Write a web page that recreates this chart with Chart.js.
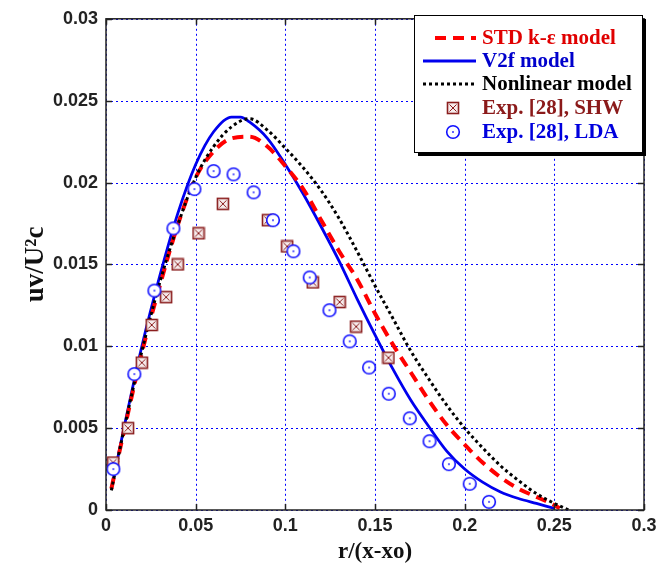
<!DOCTYPE html>
<html lang="en">
<head>
    <meta charset="UTF-8">
    <title>uv/U2c profiles</title>
    <script src="https://cdn.jsdelivr.net/npm/chart.js"></script>
    <style>
        html, body { margin: 0; padding: 0; background: #fff; }
        #wrap { width: 665px; height: 568px; }
    </style>
</head>
<body>
    <div id="wrap"><canvas id="uvChart" width="665" height="568"></canvas></div>
    <script>
        // Model curves, r/(x-xo) vs uv/U^2c
        const stdX = [0.003, 0.01, 0.02, 0.03, 0.04, 0.05, 0.06, 0.07, 0.08, 0.09, 0.1, 0.11, 0.12, 0.13, 0.14, 0.15, 0.16, 0.17, 0.18, 0.19, 0.2, 0.21, 0.22, 0.23, 0.24, 0.25, 0.253];
        const stdY = [0.0013, 0.0048, 0.0096, 0.0137, 0.0174, 0.0203, 0.0219, 0.0227, 0.0228, 0.0222, 0.0210, 0.0196, 0.0177, 0.0158, 0.0141, 0.0120, 0.0101, 0.0084, 0.0067, 0.0052, 0.0040, 0.0029, 0.0020, 0.0013, 0.0008, 0.0003, 0.0001];

        const v2fX = [0.003, 0.01, 0.02, 0.03, 0.04, 0.05, 0.06, 0.07, 0.075, 0.08, 0.09, 0.1, 0.11, 0.12, 0.13, 0.14, 0.15, 0.16, 0.17, 0.18, 0.19, 0.2, 0.21, 0.22, 0.23, 0.24, 0.25];
        const v2fY = [0.0013, 0.0050, 0.0100, 0.0143, 0.0181, 0.0211, 0.0231, 0.0240, 0.0240, 0.0237, 0.0227, 0.0211, 0.0193, 0.0173, 0.0152, 0.0129, 0.0107, 0.0086, 0.0067, 0.0051, 0.0036, 0.0025, 0.0017, 0.0011, 0.0007, 0.0004, 0.0001];

        const nlX = [0.003, 0.01, 0.02, 0.03, 0.04, 0.05, 0.06, 0.07, 0.08, 0.09, 0.1, 0.11, 0.12, 0.13, 0.14, 0.15, 0.16, 0.17, 0.18, 0.19, 0.2, 0.21, 0.22, 0.23, 0.24, 0.25, 0.258];
        const nlY = [0.0012, 0.0049, 0.0097, 0.0139, 0.0174, 0.0203, 0.0222, 0.0234, 0.0239, 0.0232, 0.0221, 0.0209, 0.0195, 0.0178, 0.0158, 0.0137, 0.0117, 0.0097, 0.0080, 0.0064, 0.0050, 0.0038, 0.0027, 0.0018, 0.0010, 0.0004, 0.0000];

        // Experiments [28]
        const shwX = [0.004, 0.0123, 0.020, 0.0255, 0.0335, 0.040, 0.0516, 0.0652, 0.0903, 0.101, 0.1153, 0.1303, 0.1395, 0.1575];
        const shwY = [0.0029, 0.0050, 0.0090, 0.0113, 0.0130, 0.0150, 0.0169, 0.0187, 0.0177, 0.0161, 0.0139, 0.0127, 0.0112, 0.0093];

        const ldaX = [0.0041, 0.0158, 0.027, 0.0376, 0.0493, 0.060, 0.0711, 0.0823, 0.0931, 0.1045, 0.1136, 0.1246, 0.1359, 0.1467, 0.1577, 0.1694, 0.1804, 0.1912, 0.2028, 0.2136];
        const ldaY = [0.0025, 0.0083, 0.0134, 0.0172, 0.0196, 0.0207, 0.0205, 0.0194, 0.0177, 0.0158, 0.0142, 0.0122, 0.0103, 0.0087, 0.0071, 0.0056, 0.0042, 0.0028, 0.0016, 0.0005];

        const xTicks = [0, 0.05, 0.1, 0.15, 0.2, 0.25, 0.3];
        const yTicks = [0, 0.005, 0.01, 0.015, 0.02, 0.025, 0.03];

        const toPts = (xs, ys) => xs.map((x, i) => ({ x: x, y: ys[i] }));

        // marker images
        function boxCross() {
            const c = document.createElement('canvas');
            c.width = 14; c.height = 14;
            const g = c.getContext('2d');
            g.fillStyle = '#f6ecec';
            g.fillRect(1, 1, 12, 12);
            g.strokeStyle = '#8b1e1e';
            g.lineWidth = 1.6;
            g.strokeRect(1.5, 1.5, 11, 11);
            g.lineWidth = 1;
            g.beginPath();
            g.moveTo(3.5, 3.5); g.lineTo(10.5, 10.5);
            g.moveTo(10.5, 3.5); g.lineTo(3.5, 10.5);
            g.stroke();
            return c;
        }
        function ringDot() {
            const c = document.createElement('canvas');
            c.width = 16; c.height = 16;
            const g = c.getContext('2d');
            g.fillStyle = '#fff';
            g.strokeStyle = '#1010ff';
            g.lineWidth = 1.6;
            g.beginPath();
            g.arc(8, 8, 6.3, 0, Math.PI * 2);
            g.fill(); g.stroke();
            g.fillStyle = '#1010ff';
            g.fillRect(7.2, 7.2, 1.6, 1.6);
            return c;
        }
        const shwMark = boxCross();
        const ldaMark = ringDot();

        const lineBase = { showLine: true, pointRadius: 0, fill: false, cubicInterpolationMode: 'monotone' };

        const datasets = [
            Object.assign({ label: 'STD k-\u03b5 model', data: toPts(stdX, stdY), borderColor: '#ff0000', borderWidth: 4, borderDash: [11, 7], order: 3, textColor: '#e00000' }, lineBase),
            Object.assign({ label: 'V2f model', data: toPts(v2fX, v2fY), borderColor: '#0000ee', borderWidth: 2.8, order: 4, textColor: '#0000cc' }, lineBase),
            Object.assign({ label: 'Nonlinear model', data: toPts(nlX, nlY), borderColor: '#000000', borderWidth: 3, borderDash: [3, 3], order: 2, textColor: '#000000' }, lineBase),
            { label: 'Exp. [28], SHW', data: toPts(shwX, shwY), pointStyle: shwMark, pointRadius: 7, showLine: false, order: 1, textColor: '#8b1a1a', borderColor: '#8b1e1e' },
            { label: 'Exp. [28], LDA', data: toPts(ldaX, ldaY), pointStyle: ldaMark, pointRadius: 8, showLine: false, order: 0, textColor: '#0000dd', borderColor: '#1010ff' }
        ];

        // blue dotted grid under the data
        const gridPlugin = {
            id: 'dotGrid',
            beforeDatasetsDraw(chart) {
                const { ctx, chartArea: a, scales } = chart;
                ctx.save();
                ctx.strokeStyle = '#0000ff';
                ctx.lineWidth = 1;
                ctx.setLineDash([2, 3]);
                ctx.beginPath();
                xTicks.forEach(v => {
                    const px = Math.round(scales.x.getPixelForValue(v)) + 0.5;
                    ctx.moveTo(px, a.top); ctx.lineTo(px, a.bottom);
                });
                yTicks.forEach(v => {
                    const py = Math.round(scales.y.getPixelForValue(v)) + 0.5;
                    ctx.moveTo(a.left, py); ctx.lineTo(a.right, py);
                });
                ctx.stroke();
                ctx.restore();
            }
        };

        // frame box, inward ticks and legend
        const framePlugin = {
            id: 'frame',
            afterDraw(chart) {
                const { ctx, chartArea: a, scales } = chart;
                ctx.save();
                ctx.strokeStyle = '#222';
                ctx.lineWidth = 1.5;
                ctx.strokeRect(a.left, a.top, a.right - a.left, a.bottom - a.top);
                ctx.beginPath();
                xTicks.forEach(v => {
                    const px = Math.round(scales.x.getPixelForValue(v)) + 0.5;
                    ctx.moveTo(px, a.bottom); ctx.lineTo(px, a.bottom - 6);
                    ctx.moveTo(px, a.top); ctx.lineTo(px, a.top + 6);
                });
                yTicks.forEach(v => {
                    const py = Math.round(scales.y.getPixelForValue(v)) + 0.5;
                    ctx.moveTo(a.left, py); ctx.lineTo(a.left + 6, py);
                    ctx.moveTo(a.right, py); ctx.lineTo(a.right - 6, py);
                });
                ctx.stroke();

                // legend box
                const L = 414, T = 15, R = 642, B = 152;
                ctx.fillStyle = '#000';
                ctx.fillRect(L + 4, T + 4, R - L, B - T);
                ctx.fillStyle = '#fff';
                ctx.fillRect(L, T, R - L, B - T);
                ctx.strokeStyle = '#000';
                ctx.lineWidth = 1;
                ctx.strokeRect(L + 0.5, T + 0.5, R - L, B - T);

                const rows = [38, 61, 84, 108, 132];
                ctx.font = 'bold 21px "Liberation Serif", "Times New Roman", serif';
                ctx.textBaseline = 'middle';
                chart.data.datasets.forEach((ds, i) => {
                    const y = rows[i];
                    if (ds.showLine) {
                        ctx.save();
                        ctx.strokeStyle = ds.borderColor;
                        ctx.lineWidth = ds.borderWidth;
                        ctx.setLineDash(ds.borderDash || []);
                        ctx.beginPath();
                        ctx.moveTo(i === 0 ? 435 : 423, y);
                        ctx.lineTo(476, y);
                        ctx.stroke();
                        ctx.restore();
                    } else {
                        const img = ds.pointStyle;
                        ctx.drawImage(img, 453 - img.width / 2, y - img.height / 2);
                    }
                    ctx.fillStyle = ds.textColor;
                    ctx.fillText(ds.label, 482, y + 1);
                });
                ctx.restore();
            }
        };

        const tickFont = { family: '"Liberation Sans", Arial, sans-serif', size: 18, weight: 'bold' };
        const titleFont = { family: '"Liberation Serif", "Times New Roman", serif', size: 23, weight: 'bold' };

        new Chart(document.getElementById('uvChart'), {
            type: 'scatter',
            data: { datasets: datasets },
            options: {
                responsive: false,
                animation: false,
                layout: { padding: { top: 13, right: 21, left: 0, bottom: 0 } },
                plugins: { legend: { display: false }, tooltip: { enabled: false } },
                scales: {
                    x: {
                        type: 'linear', min: 0, max: 0.3,
                        afterFit: s => { s.height = 58; },
                        afterBuildTicks: s => { s.ticks = xTicks.map(v => ({ value: v })); },
                        ticks: { color: '#222', font: tickFont, padding: 5, callback: v => String(+v.toFixed(3)) },
                        grid: { display: false, drawTicks: false },
                        border: { display: false },
                        title: { display: true, text: 'r/(x-xo)', color: '#111', font: titleFont, padding: { bottom: 2 } }
                    },
                    y: {
                        type: 'linear', min: 0, max: 0.03,
                        afterFit: s => { s.width = 106; },
                        afterBuildTicks: s => { s.ticks = yTicks.map(v => ({ value: v })); },
                        ticks: { color: '#222', font: tickFont, padding: 8, callback: v => String(+v.toFixed(4)) },
                        grid: { display: false, drawTicks: false },
                        border: { display: false },
                        title: { display: true, text: 'uv/U\u00b2c', color: '#111', font: { family: titleFont.family, size: 27, weight: 'bold' }, padding: { top: 20 } }
                    }
                }
            },
            plugins: [gridPlugin, framePlugin]
        });
    </script>
</body>
</html>
